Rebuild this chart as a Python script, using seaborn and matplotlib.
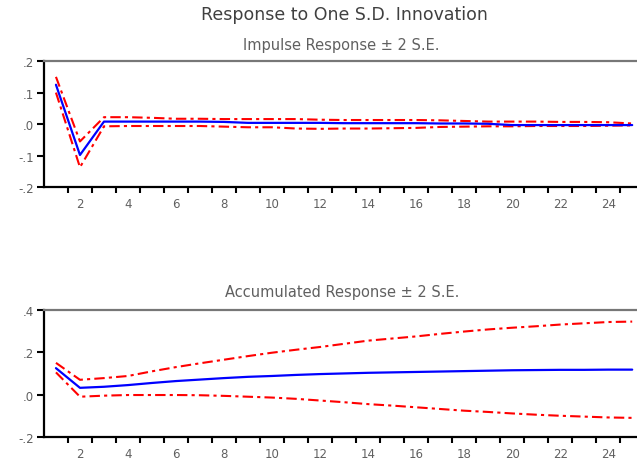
import numpy as np
import pandas as pd
import matplotlib
matplotlib.use("Agg")
import matplotlib.pyplot as plt
import seaborn as sns
from matplotlib.ticker import FuncFormatter

periods = list(range(1, 26))

impulse_resp = [0.125, -0.098, 0.008, 0.008, 0.008, 0.008, 0.008, 0.007, 0.004, 0.004,
                0.004, 0.004, 0.003, 0.003, 0.003, 0.003, 0.002, 0.002, 0.001, -0.003,
                -0.003, -0.003, -0.003, -0.003, -0.003]
impulse_upper = [0.150, -0.055, 0.022, 0.022, 0.020, 0.017, 0.017, 0.016, 0.016, 0.016,
                 0.016, 0.014, 0.013, 0.013, 0.013, 0.013, 0.012, 0.010, 0.008, 0.008,
                 0.008, 0.007, 0.007, 0.006, 0.002]
impulse_lower = [0.100, -0.137, -0.007, -0.006, -0.006, -0.006, -0.006, -0.008, -0.010, -0.010,
                 -0.014, -0.015, -0.014, -0.014, -0.013, -0.012, -0.009, -0.008, -0.007, -0.007,
                 -0.006, -0.006, -0.006, -0.005, -0.004]

accum_resp = [0.125, 0.032, 0.037, 0.045, 0.055, 0.064, 0.071, 0.078, 0.084, 0.088,
              0.093, 0.097, 0.100, 0.103, 0.105, 0.107, 0.109, 0.111, 0.113, 0.115,
              0.116, 0.117, 0.117, 0.118, 0.118]
accum_upper = [0.150, 0.070, 0.078, 0.088, 0.110, 0.130, 0.148, 0.165, 0.182, 0.198,
               0.212, 0.225, 0.240, 0.255, 0.265, 0.275, 0.287, 0.298, 0.308, 0.316,
               0.323, 0.331, 0.337, 0.343, 0.345]
accum_lower = [0.105, -0.010, -0.005, -0.002, -0.002, -0.002, -0.003, -0.006, -0.010, -0.014,
               -0.020, -0.028, -0.036, -0.045, -0.052, -0.060, -0.068, -0.076, -0.082, -0.089,
               -0.095, -0.100, -0.104, -0.108, -0.110]

top_yticks = [-0.2, -0.1, 0.0, 0.1, 0.2]
bottom_yticks = [-0.2, 0.0, 0.2, 0.4]
xtick_labels = list(range(2, 25, 2))

main_title = "Response to One S.D. Innovation"
top_title = "Impulse Response \u00b1 2 S.E."
bottom_title = "Accumulated Response \u00b1 2 S.E."

sns.set_style("white")
plt.rcParams['font.family'] = ['DejaVu Sans']

fig = plt.figure(figsize=(6.37, 4.60), dpi=100)
ax1 = fig.add_axes([0.069, 0.591, 0.931, 0.274])
ax2 = fig.add_axes([0.069, 0.048, 0.931, 0.276])

grey = "#606060"
dash = (0, (5, 2, 1.5, 2))


def fmt(v, pos):
    if abs(v) < 1e-9:
        return ".0"
    s = f"{v:.1f}"
    return s.replace("0.", ".")


def draw(ax, resp, upper, lower, yticks, ylim):
    df = pd.DataFrame({"period": periods, "resp": resp, "upper": upper, "lower": lower})
    sns.lineplot(data=df, x="period", y="upper", ax=ax, color="#ff0000",
                 linewidth=1.5, linestyle=dash)
    sns.lineplot(data=df, x="period", y="lower", ax=ax, color="#ff0000",
                 linewidth=1.5, linestyle=dash)
    sns.lineplot(data=df, x="period", y="resp", ax=ax, color="#0000ff",
                 linewidth=1.6)
    ax.set_xlim(0.5, 25.2)
    ax.set_ylim(*ylim)
    ax.set_yticks(yticks)
    ax.yaxis.set_major_formatter(FuncFormatter(fmt))
    ax.set_xticks(xtick_labels)
    ax.set_xticks([p + 0.5 for p in range(1, 25)], minor=True)
    ax.set_xlabel("")
    ax.set_ylabel("")
    ax.tick_params(axis="x", which="major", length=0, pad=7, labelsize=8.5, labelcolor=grey)
    ax.tick_params(axis="x", which="minor", length=4, width=1.5, direction="out",
                   color="black", bottom=True)
    ax.tick_params(axis="y", which="major", length=5, width=1.5, direction="out",
                   color="black", pad=2, labelsize=8.5, labelcolor=grey, left=True)
    for s in ["left", "bottom"]:
        ax.spines[s].set_color("black")
        ax.spines[s].set_linewidth(1.6)
    ax.spines["top"].set_color("#777777")
    ax.spines["top"].set_linewidth(1.6)
    ax.spines["right"].set_visible(False)


draw(ax1, impulse_resp, impulse_upper, impulse_lower, top_yticks, (-0.2, 0.2))
draw(ax2, accum_resp, accum_upper, accum_lower, bottom_yticks, (-0.2, 0.4))

fig.text(0.54, 0.967, main_title, ha="center", va="center", fontsize=12.5, color="#404040")
fig.text(0.535, 0.902, top_title, ha="center", va="center", fontsize=10.5, color=grey)
fig.text(0.537, 0.365, bottom_title, ha="center", va="center", fontsize=10.5, color=grey)

fig.savefig("out.png", dpi=100)
